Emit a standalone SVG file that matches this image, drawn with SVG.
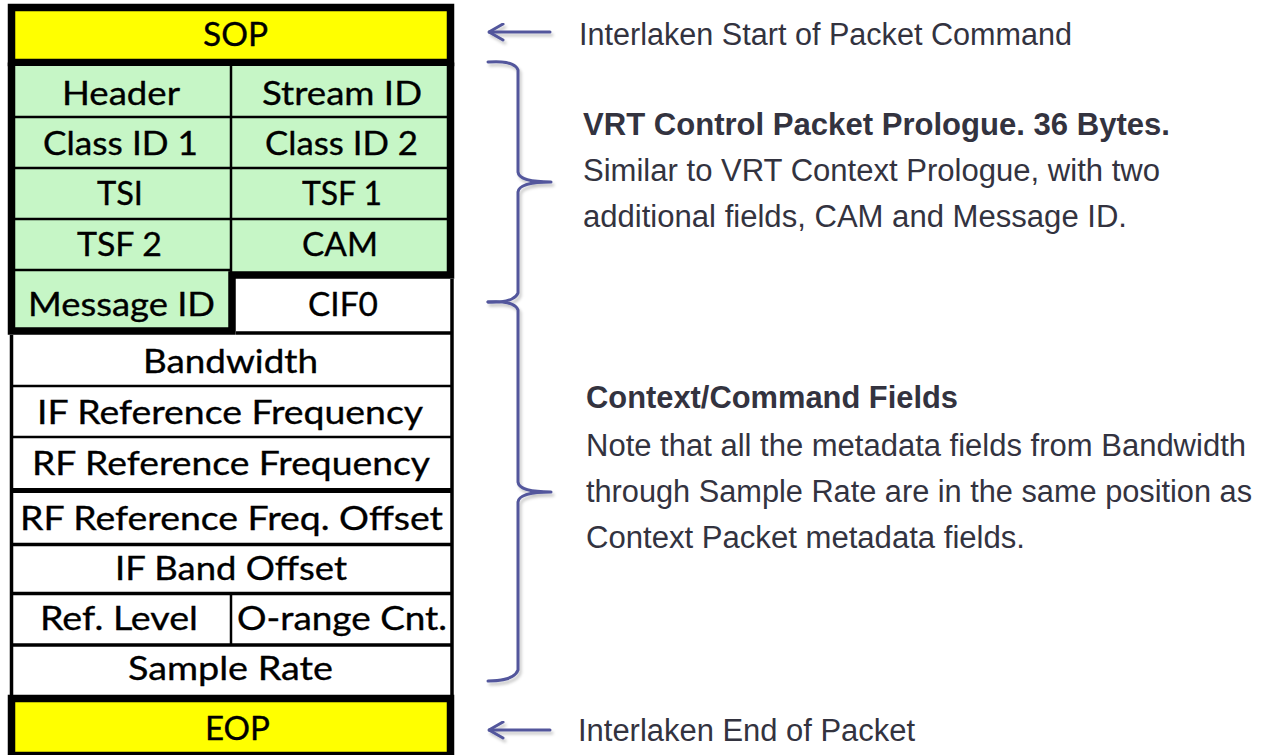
<svg xmlns="http://www.w3.org/2000/svg" width="1270" height="755" viewBox="0 0 1270 755">
  <defs>
    <style>
      .cell { font-family: "Lato", "Liberation Sans", sans-serif; font-size: 33px; fill: #000; stroke: #000; stroke-width: 0.35; }
      .note { font-family: "Liberation Sans", Arial, sans-serif; font-size: 31px; fill: #33333f; }
      .bold { font-weight: bold; }
      .thin { stroke: #000; stroke-width: 2.5; fill: none; }
      .mid { stroke: #000; stroke-width: 3.5; fill: none; }
      .thick { stroke: #000; stroke-width: 7.5; fill: none; stroke-linejoin: miter; }
      .word { fill: #ffff00; stroke: #000; stroke-width: 7.5; }
      .green { fill: #c6f6c6; }
      .link { stroke: #52579c; stroke-width: 3; fill: none; stroke-linecap: round; stroke-linejoin: round; }
    </style>
    <marker id="chevron" viewBox="0 0 17 19" refX="15.5" refY="9.5" markerWidth="17" markerHeight="19" markerUnits="userSpaceOnUse" orient="auto">
      <path d="M1.5,1.5 L15.5,9.5 L1.5,17.5" fill="none" stroke="#52579c" stroke-width="3" stroke-linecap="round" stroke-linejoin="round"/>
    </marker>
    <filter id="soft" x="-20%" y="-20%" width="140%" height="140%">
      <feDropShadow dx="2" dy="3" stdDeviation="1.5" flood-color="#000" flood-opacity="0.22"/>
    </filter>
  </defs>

  <rect width="1270" height="755" fill="#fff"/>

  <!-- start of packet word -->
  <g id="sop">
    <rect class="word" x="11.5" y="7.5" width="439" height="55"/>
    <text class="cell" x="203" y="46" textLength="65" lengthAdjust="spacingAndGlyphs">SOP</text>
  </g>

  <!-- control packet prologue (green block) -->
  <g id="prologue">
    <rect class="green" x="15" y="66" width="432" height="209"/>
    <rect class="green" x="15" y="275" width="217" height="56"/>
    <line class="thin" x1="15" y1="117" x2="447" y2="117"/>
    <line class="thin" x1="15" y1="168" x2="447" y2="168"/>
    <line class="thin" x1="15" y1="219" x2="447" y2="219"/>
    <line class="thin" x1="15" y1="270" x2="232" y2="270"/>
    <line class="thin" x1="231" y1="66" x2="231" y2="272"/>
    <path class="thick" d="M11.5,62.5 V331 H232 V275 H450.5 V62.5"/>
    <g id="header"><text class="cell" x="62" y="105" textLength="118" lengthAdjust="spacingAndGlyphs">Header</text></g>
    <g id="stream-id"><text class="cell" x="262" y="105" textLength="160" lengthAdjust="spacingAndGlyphs">Stream ID</text></g>
    <g id="class-id-1"><text class="cell" x="43" y="155" textLength="155" lengthAdjust="spacingAndGlyphs">Class ID 1</text></g>
    <g id="class-id-2"><text class="cell" x="265" y="155" textLength="153" lengthAdjust="spacingAndGlyphs">Class ID 2</text></g>
    <g id="tsi"><text class="cell" x="97" y="205" textLength="46" lengthAdjust="spacingAndGlyphs">TSI</text></g>
    <g id="tsf-1"><text class="cell" x="302" y="205" textLength="80" lengthAdjust="spacingAndGlyphs">TSF 1</text></g>
    <g id="tsf-2"><text class="cell" x="77" y="256" textLength="85" lengthAdjust="spacingAndGlyphs">TSF 2</text></g>
    <g id="cam"><text class="cell" x="302" y="256" textLength="76" lengthAdjust="spacingAndGlyphs">CAM</text></g>
    <g id="message-id"><text class="cell" x="28" y="316" textLength="187" lengthAdjust="spacingAndGlyphs">Message ID</text></g>
  </g>

  <!-- context / command fields (white block) -->
  <g id="fields">
    <line class="mid" x1="11.5" y1="335" x2="11.5" y2="699"/>
    <line class="mid" x1="452" y1="279" x2="452" y2="699"/>
    <line class="mid" x1="236" y1="333" x2="452" y2="333"/>
    <line class="thin" x1="11.5" y1="386" x2="452" y2="386"/>
    <line class="thin" x1="11.5" y1="437" x2="452" y2="437"/>
    <line class="thin" x1="11.5" y1="490.5" x2="452" y2="490.5" style="stroke-width:5"/>
    <line class="mid" x1="11.5" y1="544.5" x2="452" y2="544.5"/>
    <line class="mid" x1="11.5" y1="593.5" x2="452" y2="593.5"/>
    <line class="mid" x1="11.5" y1="645" x2="452" y2="645"/>
    <line class="thin" x1="231" y1="593.5" x2="231" y2="645"/>
    <g id="cif0"><text class="cell" x="308" y="316" textLength="70" lengthAdjust="spacingAndGlyphs">CIF0</text></g>
    <g id="bandwidth"><text class="cell" x="143" y="373" textLength="175" lengthAdjust="spacingAndGlyphs">Bandwidth</text></g>
    <g id="if-ref-freq"><text class="cell" x="37" y="424" textLength="386" lengthAdjust="spacingAndGlyphs">IF Reference Frequency</text></g>
    <g id="rf-ref-freq"><text class="cell" x="32" y="475" textLength="398" lengthAdjust="spacingAndGlyphs">RF Reference Frequency</text></g>
    <g id="rf-ref-freq-offset"><text class="cell" x="20" y="530" textLength="423" lengthAdjust="spacingAndGlyphs">RF Reference Freq. Offset</text></g>
    <g id="if-band-offset"><text class="cell" x="115" y="580" textLength="232" lengthAdjust="spacingAndGlyphs">IF Band Offset</text></g>
    <g id="ref-level"><text class="cell" x="40" y="630" textLength="158" lengthAdjust="spacingAndGlyphs">Ref. Level</text></g>
    <g id="o-range-cnt"><text class="cell" x="237" y="630" textLength="210" lengthAdjust="spacingAndGlyphs">O-range Cnt.</text></g>
    <g id="sample-rate"><text class="cell" x="128" y="680" textLength="205" lengthAdjust="spacingAndGlyphs">Sample Rate</text></g>
  </g>

  <!-- end of packet word -->
  <g id="eop">
    <rect class="word" x="11.5" y="698.5" width="439" height="57"/>
    <text class="cell" x="205" y="740" textLength="65" lengthAdjust="spacingAndGlyphs">EOP</text>
  </g>

  <!-- arrows and braces -->
  <g id="connectors" filter="url(#soft)">
    <line class="link" x1="550" y1="32" x2="489" y2="32" marker-end="url(#chevron)"/>
    <line class="link" x1="550" y1="730" x2="489" y2="730" marker-end="url(#chevron)"/>
    <path class="link" d="M488,62 Q514,60 518,70 L518,172 Q519,182 551,182 Q519,182 518,192 L518,293 Q514,303 488,302"/>
    <path class="link" d="M488,302 Q514,300 518,310 L518,482 Q519,492 551,492 Q519,492 518,502 L518,670 Q514,681 488,681"/>
  </g>

  <!-- annotations -->
  <g id="note-sop"><text class="note" x="579" y="45" textLength="493" lengthAdjust="spacingAndGlyphs">Interlaken Start of Packet Command</text></g>
  <g id="note-prologue">
    <text class="note bold" x="583" y="135" textLength="587" lengthAdjust="spacingAndGlyphs">VRT Control Packet Prologue. 36 Bytes.</text>
    <text class="note" x="583" y="181" textLength="577" lengthAdjust="spacingAndGlyphs">Similar to VRT Context Prologue, with two</text>
    <text class="note" x="583" y="227" textLength="544" lengthAdjust="spacingAndGlyphs">additional fields, CAM and Message ID.</text>
  </g>
  <g id="note-fields">
    <text class="note bold" x="586" y="408" textLength="372" lengthAdjust="spacingAndGlyphs">Context/Command Fields</text>
    <text class="note" x="586" y="456" textLength="660" lengthAdjust="spacingAndGlyphs">Note that all the metadata fields from Bandwidth</text>
    <text class="note" x="586" y="502" textLength="666" lengthAdjust="spacingAndGlyphs">through Sample Rate are in the same position as</text>
    <text class="note" x="586" y="548" textLength="439" lengthAdjust="spacingAndGlyphs">Context Packet metadata fields.</text>
  </g>
  <g id="note-eop"><text class="note" x="578" y="741" textLength="337" lengthAdjust="spacingAndGlyphs">Interlaken End of Packet</text></g>
</svg>
